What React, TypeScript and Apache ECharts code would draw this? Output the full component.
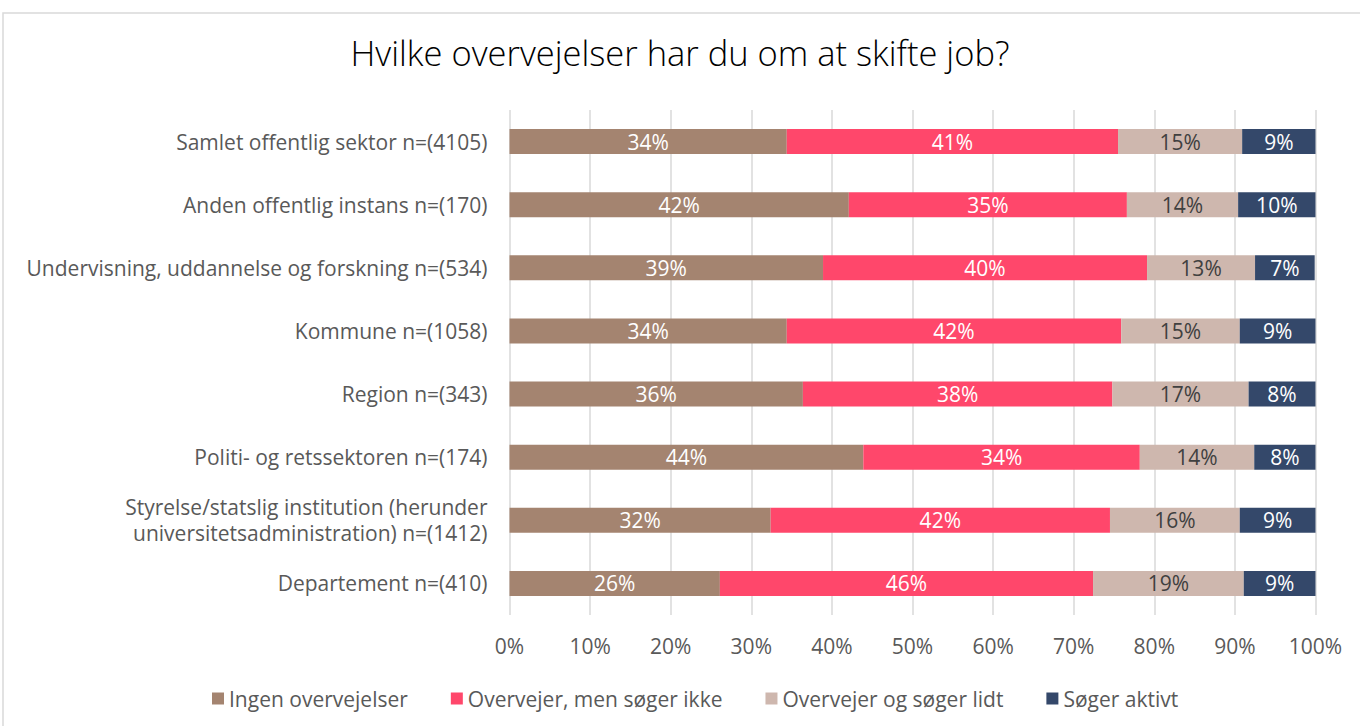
import React, { useEffect, useRef } from "react";
import * as echarts from "echarts";

const categories = [
  "Samlet offentlig sektor n=(4105)",
  "Anden offentlig instans n=(170)",
  "Undervisning, uddannelse og forskning n=(534)",
  "Kommune n=(1058)",
  "Region n=(343)",
  "Politi- og retssektoren n=(174)",
  "Styrelse/statslig institution (herunder\nuniversitetsadministration) n=(1412)",
  "Departement n=(410)",
];

const seriesNames = [
  "Ingen overvejelser",
  "Overvejer, men søger ikke",
  "Overvejer og søger lidt",
  "Søger aktivt",
];

const ingen = [34.4, 42.1, 38.9, 34.4, 36.4, 43.9, 32.4, 26.1];
const overvejerIkke = [41.1, 34.5, 40.2, 41.5, 38.4, 34.3, 42.1, 46.3];
const overvejerLidt = [15.4, 13.8, 13.4, 14.7, 16.9, 14.2, 16.1, 18.7];
const aktivt = [9.1, 9.6, 7.4, 9.4, 8.3, 7.6, 9.4, 8.9];

const colors = ["#A48470", "#FF476B", "#CEB7AE", "#34486A"];
const labelColors = ["#FFFFFF", "#FFFFFF", "#404040", "#FFFFFF"];

const FONT = "'Open Sans', sans-serif";
const FS = 21;

export default function App() {
  const ref = useRef<HTMLDivElement>(null);
  useEffect(() => {
    if (!ref.current) return;
    const chart = echarts.init(ref.current, null, { renderer: "svg" });
    const data = [ingen, overvejerIkke, overvejerLidt, aktivt];
    chart.setOption({
      animation: false,
      backgroundColor: "#FFFFFF",
      textStyle: { fontFamily: FONT },
      graphic: [
        {
          type: "rect",
          shape: { x: 3, y: 13, width: 1420, height: 800 },
          style: { fill: "none", stroke: "#D9D9D9", lineWidth: 1.5 },
          silent: true,
          z: -10,
        },
      ],
      title: {
        text: "Hvilke overvejelser har du om at skifte job?",
        left: "center",
        top: 30,
        textStyle: {
          fontFamily: FONT,
          fontWeight: 300,
          fontSize: 34.5,
          color: "#000000",
        },
      },
      legend: {
        top: 683,
        left: 207,
        itemWidth: 12,
        itemHeight: 12,
        itemGap: 43,
        icon: "rect",
        textStyle: {
          fontFamily: FONT,
          fontSize: FS,
          color: "#595959",
        },
        data: seriesNames,
      },
      grid: {
        left: 509.5,
        right: 44.5,
        top: 110,
        height: 505,
        containLabel: false,
      },
      xAxis: {
        type: "value",
        min: 0,
        max: 100,
        interval: 10,
        axisLine: { show: false },
        axisTick: { show: false },
        splitLine: { show: true, lineStyle: { color: "#D9D9D9", width: 1.5 } },
        axisLabel: {
          formatter: (v: number) => v + "%",
          fontFamily: FONT,
          fontSize: FS,
          color: "#595959",
          margin: 20,
        },
      },
      yAxis: {
        type: "category",
        inverse: true,
        data: categories,
        axisLine: { show: false },
        axisTick: { show: false },
        axisLabel: {
          fontFamily: FONT,
          fontSize: FS,
          color: "#595959",
          margin: 22,
          lineHeight: 26,
          align: "right",
        },
      },
      series: seriesNames.map((name, i) => ({
        name,
        type: "bar",
        stack: "total",
        barWidth: 25,
        data: data[i],
        itemStyle: { color: colors[i] },
        label: {
          show: true,
          position: "inside",
          formatter: (p: any) => Math.round(p.value) + "%",
          fontFamily: FONT,
          fontSize: FS,
          color: labelColors[i],
        },
      })),
    });
    return () => chart.dispose();
  }, []);
  return (
    <div
      ref={ref}
      style={{ position: "fixed", left: 0, top: 0, width: 1360, height: 726 }}
    />
  );
}
